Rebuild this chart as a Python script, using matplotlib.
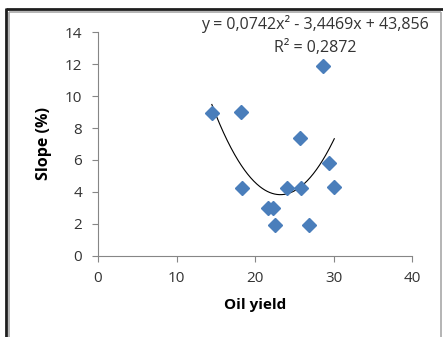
import numpy as np
import matplotlib.pyplot as plt
from matplotlib.lines import Line2D

# data
oil_yield = [14.5, 18.2, 28.7, 25.7, 29.4, 18.4, 24.1, 25.9, 30.1, 21.7, 22.3, 22.5, 26.9]
slope = [8.95, 9.0, 11.87, 7.4, 5.82, 4.25, 4.25, 4.25, 4.3, 2.97, 2.97, 1.9, 1.9]
# polynomial trendline coefficients (as printed on the chart)
coef = [0.0742, -3.4469, 43.856]
r2_text = "R² = 0,2872"
eq_text = "y = 0,0742x² - 3,4469x + 43,856"

xticks = [0, 10, 20, 30, 40]
yticks = [0, 2, 4, 6, 8, 10, 12, 14]

plt.rcParams['font.family'] = ['Open Sans', 'DejaVu Sans']

W, H = 443, 337
fig = plt.figure(figsize=(W / 100, H / 100), dpi=100)
ax = fig.add_axes([98 / W, 1 - 255.7 / H, (412 - 98) / W, (255.7 - 32.3) / H])

# frame around the chart (like the screenshot)
def fl(x0, y0, x1, y1, c, lw):
    fig.add_artist(Line2D([x0 / W, x1 / W], [1 - y0 / H, 1 - y1 / H], color=c, lw=lw,
                          transform=fig.transFigure, solid_capstyle='butt'))

fl(6, 9, 443, 9, '#1e1e1e', 2.0)
fl(6, 8, 6, 337, '#1e1e1e', 2.0)
fl(9, 12, 441, 12, '#a8a8a8', 1.2)
fl(9, 12, 9, 337, '#a8a8a8', 1.2)
fl(441, 12, 441, 337, '#a8a8a8', 1.2)

ax.plot(oil_yield, slope, linestyle='none', marker='D', markersize=7.5,
        color='#4a7ebb', markeredgecolor='#4a7ebb', zorder=3)

xs = np.linspace(min(oil_yield), max(oil_yield), 200)
ax.plot(xs, np.polyval(coef, xs), color='black', lw=0.8, zorder=2)

ax.set_xlim(0, 40)
ax.set_ylim(0, 14)
ax.set_xticks(xticks)
ax.set_yticks(yticks)
for s in ['top', 'right']:
    ax.spines[s].set_visible(False)
for s in ['left', 'bottom']:
    ax.spines[s].set_color('#868686')
    ax.spines[s].set_linewidth(0.8)
ax.tick_params(direction='out', length=4.3, width=0.8, color='#868686',
               labelsize=11, labelcolor='#333333')
ax.tick_params(axis='y', pad=7)
ax.tick_params(axis='x', pad=7)

ax.set_xlabel('Oil yield', fontsize=11, fontweight='bold', labelpad=8)
ax.set_ylabel('Slope (%)', fontsize=11.5, fontweight='bold', labelpad=9)

fig.text(315 / W, 1 - 24 / H, eq_text, ha='center', va='center', fontsize=11.5, color='#333333')
fig.text(315 / W, 1 - 48 / H, r2_text, ha='center', va='center', fontsize=11.5, color='#333333')

fig.savefig('out.png', dpi=100)
